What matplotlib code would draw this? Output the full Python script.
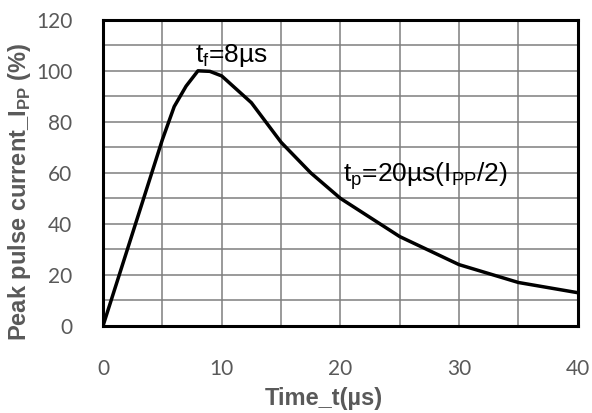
import numpy as np
import matplotlib
matplotlib.use("Agg")
import matplotlib.pyplot as plt

# waveform (time in us, current in % of Ipp)
time_us = [0, 5, 6, 7, 8, 9, 10, 12.5, 15, 17.5, 20, 25, 30, 35, 40]
current_pct = [0, 73, 86, 94, 100, 99.8, 98, 87.5, 72, 60, 50, 35, 24, 17, 13]

x_ticks = [0, 10, 20, 30, 40]
y_ticks = [0, 20, 40, 60, 80, 100, 120]

gray = "#595959"
tick_font = "Lato"
text_font = "Liberation Sans"

fig = plt.figure(figsize=(5.92, 4.13), dpi=100)
ax = fig.add_axes([0.174, 0.211, 0.802, 0.741])

ax.plot(time_us, current_pct, color="black", lw=2.5, solid_joinstyle="round", zorder=3)

ax.set_xlim(0, 40)
ax.set_ylim(0, 120)
ax.set_xticks(x_ticks)
ax.set_yticks(y_ticks)
ax.set_xticks(np.arange(0, 41, 5), minor=True)
ax.set_yticks(np.arange(0, 121, 10), minor=True)
ax.grid(which="both", color="#7f7f7f", lw=1.1)
ax.tick_params(which="both", length=0)
ax.tick_params(axis="x", pad=24)
ax.tick_params(axis="y", pad=22)
for lab in ax.get_xticklabels() + ax.get_yticklabels():
    lab.set_fontfamily(tick_font)
    lab.set_fontsize(15)
    lab.set_color(gray)

for s in ax.spines.values():
    s.set_linewidth(2.2)
    s.set_color("black")

# axis titles placed by hand (they sit off-centre in the reference)
fig.text(324 / 592, 1 - 398 / 413, "Time_t(µs)", fontsize=17, fontweight="bold",
         color=gray, family=text_font, ha="center", va="center")
fig.text(20 / 592, 1 - 192 / 413, "Peak pulse current_I$_\\mathregular{PP}$ (%)",
         fontsize=17, fontweight="bold", color=gray, family=text_font,
         ha="center", va="center", rotation=90)

ax.text(7.75, 103.5, "t$_\\mathregular{f}$=8µs", fontsize=19, family=text_font,
        va="baseline", ha="left")
ax.text(20.2, 56.5, "t$_\\mathregular{p}$=20µs(I$_\\mathregular{PP}$/2)", fontsize=19,
        family=text_font, va="baseline", ha="left")

fig.savefig("out.png", dpi=100)
